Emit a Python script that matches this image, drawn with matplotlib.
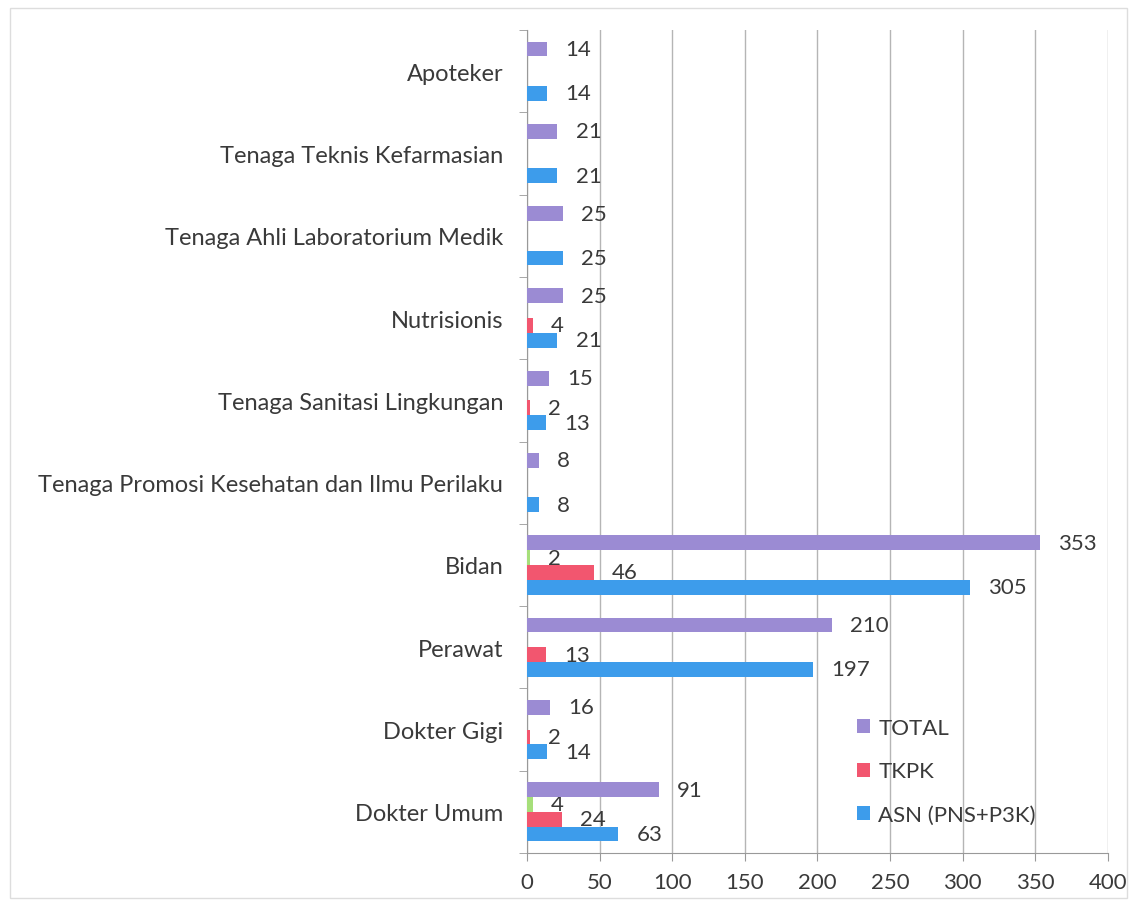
import matplotlib.pyplot as plt
import numpy as np

plt.rcParams['font.family'] = ['Lato', 'DejaVu Sans']

categories = ["Dokter Umum", "Dokter Gigi", "Perawat", "Bidan",
              "Tenaga Promosi Kesehatan dan Ilmu Perilaku",
              "Tenaga Sanitasi Lingkungan", "Nutrisionis",
              "Tenaga Ahli Laboratorium Medik",
              "Tenaga Teknis Kefarmasian", "Apoteker"]
asn = [63, 14, 197, 305, 8, 13, 21, 25, 21, 14]
tkpk = [24, 2, 13, 46, 0, 2, 4, 0, 0, 0]
lainnya = [4, 0, 0, 2, 0, 0, 0, 0, 0, 0]
total = [91, 16, 210, 353, 8, 15, 25, 25, 21, 14]

series = [
    ("ASN (PNS+P3K)", asn, "#3d9ceb"),
    ("TKPK", tkpk, "#f2566f"),
    ("_lainnya", lainnya, "#a6df7a"),
    ("TOTAL", total, "#9b8bd3"),
]

txt = "#3a3a3a"
fig = plt.figure(figsize=(11.34, 9.04), dpi=100)
ax = fig.add_axes([0.4647, 0.0553, 0.5123, 0.9104])

y = np.arange(len(categories))
h = 0.18
handles = {}
for k, (name, vals, col) in enumerate(series):
    pos = y + (k - 1.5) * h
    bars = ax.barh(pos, vals, height=h, color=col, label=name, zorder=3)
    handles[name] = bars
    for p, v in zip(pos, vals):
        if v > 0:
            ax.annotate(str(v), (v, p), xytext=(13, 0), textcoords="offset points",
                        va="center", ha="left", fontsize=16, color=txt)

ax.set_xlim(0, 400)
ax.set_ylim(-0.5, len(categories) - 0.5)
ax.set_xticks(np.arange(0, 401, 50))
ax.set_yticks(y)
ax.set_yticklabels(categories)
ax.set_yticks(np.arange(-0.5, len(categories), 1), minor=True)
ax.tick_params(axis="y", which="major", length=0, pad=17, labelsize=17, labelcolor=txt)
ax.tick_params(axis="y", which="minor", length=6, color="#999999")
ax.tick_params(axis="x", length=6, color="#999999", labelsize=16, labelcolor=txt, pad=8)
ax.grid(axis="x", color="#b5b5b5", linewidth=1, zorder=0)
for s in ["top", "right"]:
    ax.spines[s].set_visible(False)
for s in ["left", "bottom"]:
    ax.spines[s].set_color("#999999")

leg = ax.legend([handles["TOTAL"], handles["TKPK"], handles["ASN (PNS+P3K)"]],
                ["TOTAL", "TKPK", "ASN (PNS+P3K)"],
                loc="lower right", bbox_to_anchor=(0.91, 0.01), frameon=False,
                fontsize=16, labelspacing=1.05, handlelength=0.6, handleheight=0.6,
                handletextpad=0.35)
for t in leg.get_texts():
    t.set_color(txt)

fig.patches.append(plt.Rectangle((0.009, 0.005), 0.985, 0.985, transform=fig.transFigure,
                                 fill=False, edgecolor="#dddddd", linewidth=1))

fig.savefig("out.png", dpi=100)
